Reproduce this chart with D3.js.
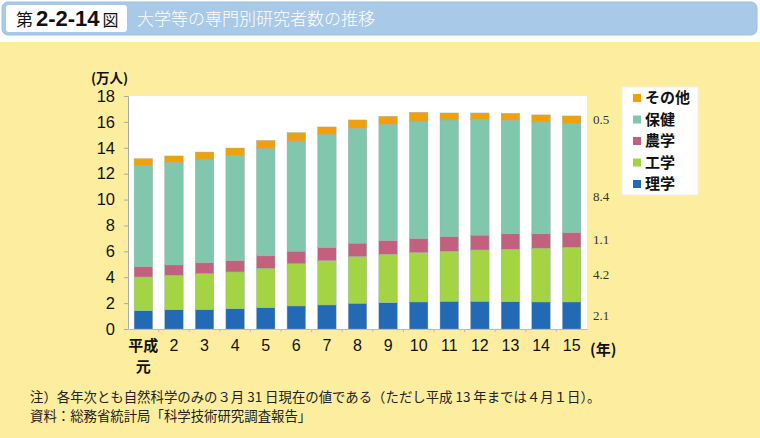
<!DOCTYPE html>
<html><head><meta charset="utf-8">
<script src="https://cdn.jsdelivr.net/npm/d3@7/dist/d3.min.js"></script>
<style>
body{margin:0;background:#fff;}
svg{display:block;}
</style></head>
<body>
<svg id="c" width="760" height="438"></svg>
<script>
// ---- data ----
const years = ["平成元","2","3","4","5","6","7","8","9","10","11","12","13","14","15"];
const rigaku = [1.42,1.49,1.50,1.57,1.65,1.78,1.86,1.99,2.04,2.09,2.14,2.14,2.11,2.09,2.09];
const kogaku = [2.60,2.66,2.78,2.84,3.05,3.27,3.43,3.61,3.74,3.82,3.87,3.97,4.06,4.16,4.23];
const nogaku = [0.80,0.80,0.83,0.88,0.95,0.96,1.01,1.03,1.05,1.08,1.13,1.14,1.18,1.10,1.13];
const hoken  = [7.82,7.92,8.02,8.12,8.31,8.52,8.74,8.87,8.98,9.08,9.01,8.95,8.77,8.65,8.44];
const sonota = [0.52,0.50,0.54,0.57,0.61,0.64,0.57,0.65,0.62,0.67,0.54,0.49,0.54,0.54,0.57];
const seriesNames = ["理学","工学","農学","保健","その他"];
const lastLabels = ["2.1","4.2","1.1","8.4","0.5"];
const yTicks = [0,2,4,6,8,10,12,14,16,18];
const colors = ["#2269B6","#A3D444","#C2607E","#80C7AE","#F0A10A"];
const labelFrac = [0.5,0.5,0.5,0.33,0.5];

const svg = d3.select("#c");
const W = 760, H = 438;

// background
svg.append("rect").attr("x",0).attr("y",0).attr("width",W).attr("height",H).attr("fill","#fff");
svg.append("rect").attr("x",0).attr("y",42).attr("width",W).attr("height",H-42).attr("fill","#FCEE9E");

// header
svg.append("rect").attr("x",2).attr("y",2).attr("width",755).attr("height",33).attr("rx",6)
  .attr("fill","#A9C9E8").attr("stroke","#9BBFE3");
svg.append("rect").attr("x",6).attr("y",5).attr("width",121).attr("height",27).attr("rx",3).attr("fill","#fff");
const ht = svg.append("text").attr("x",16).attr("y",26).attr("font-family","'Noto Sans CJK JP', sans-serif").attr("fill","#111");
ht.append("tspan").attr("font-size",17).text("第");
ht.append("tspan").attr("font-size",22).attr("font-weight","bold").attr("font-family","'Liberation Sans', Arial, sans-serif").attr("dx",3).text("2-2-14");
ht.append("tspan").attr("font-size",16).attr("dx",3).text("図");
svg.append("text").attr("x",137).attr("y",25).attr("font-size",17).attr("fill","#fff")
  .attr("font-family","'Noto Sans CJK JP', sans-serif").attr("font-weight",300).text("大学等の専門別研究者数の推移");

// scales
const plot = {l:128, r:587, t:96, b:329};
const x = d3.scaleBand().domain(years).range([plot.l, plot.r]).paddingInner(0.395).paddingOuter(0.2);
const y = d3.scaleLinear().domain([0,18]).range([plot.b, plot.t]);

svg.append("rect").attr("x",plot.l).attr("y",plot.t).attr("width",plot.r-plot.l).attr("height",plot.b-plot.t)
  .attr("fill","#fff");

// stack
const rows = years.map((yr,i)=>({yr, 理学:rigaku[i], 工学:kogaku[i], 農学:nogaku[i], 保健:hoken[i], その他:sonota[i]}));
const stack = d3.stack().keys(seriesNames)(rows);

svg.append("g").selectAll("g").data(stack).join("g")
  .attr("fill",(d,i)=>colors[i])
  .selectAll("rect").data(d=>d).join("rect")
  .attr("x",d=>x(d.data.yr)).attr("width",x.bandwidth())
  .attr("y",d=>y(d[1])).attr("height",d=>y(d[0])-y(d[1]))
  .attr("stroke","#9aa").attr("stroke-width",0.4);

// axes
const numFont = "'Liberation Sans', Arial, sans-serif";
const ya = svg.append("g").attr("transform",`translate(${plot.l},0)`)
  .call(d3.axisLeft(y).tickValues(yTicks).tickSize(4).tickPadding(9));
ya.select(".domain").attr("stroke","#aaa");
ya.selectAll(".tick line").attr("stroke","#aaa");
ya.selectAll(".tick text").attr("font-size",16.5).attr("font-family",numFont).attr("fill","#111");

const xa = svg.append("g").attr("transform",`translate(0,${plot.b})`)
  .call(d3.axisBottom(x).tickSize(0).tickPadding(11));
xa.select(".domain").attr("stroke","#bbb");
xa.selectAll(".tick text").attr("font-size",16).attr("font-family",numFont).attr("fill","#111")
  .each(function(d){
    if(d==="平成元"){
      d3.select(this).text("平成").attr("font-family","'Noto Sans CJK JP', sans-serif")
        .attr("font-size",15).attr("font-weight","bold");
    }
  });
// second line of the first label
svg.append("text").attr("x",x(years[0])+x.bandwidth()/2).attr("y",372).attr("text-anchor","middle")
  .attr("font-family","'Noto Sans CJK JP', sans-serif").attr("font-size",15).attr("font-weight","bold")
  .attr("fill","#111").text("元");
// band-edge ticks
svg.append("g").selectAll("line").data(years.slice(1)).join("line")
  .attr("x1",d=>x(d)-x.step()*x.paddingInner()/2).attr("x2",d=>x(d)-x.step()*x.paddingInner()/2)
  .attr("y1",plot.b).attr("y2",plot.b+3).attr("stroke","#bbb");

svg.append("text").attr("x",91).attr("y",83).attr("font-size",13.5).attr("font-weight","bold")
  .attr("font-family","'Noto Sans CJK JP', sans-serif").attr("fill","#111").text("(万人)");
svg.append("text").attr("x",590).attr("y",355).attr("font-size",15).attr("font-weight","bold")
  .attr("font-family","'Noto Sans CJK JP', sans-serif").attr("fill","#111").text("(年)");

// last-year value labels
const lastIdx = years.length-1;
svg.append("g").selectAll("text").data(stack).join("text")
  .attr("x",593)
  .attr("y",(s,i)=>y(s[lastIdx][0] + labelFrac[i]*(s[lastIdx][1]-s[lastIdx][0])))
  .attr("dy","0.35em").attr("font-size",13).attr("fill","#333")
  .attr("font-family","'Liberation Serif','Times New Roman', serif")
  .text((s,i)=>lastLabels[i]);

// legend
const lg = svg.append("g");
lg.append("rect").attr("x",622).attr("y",87).attr("width",76).attr("height",108).attr("fill","#fff").attr("stroke","#eee");
const legendOrder = [4,3,2,1,0];
legendOrder.forEach((si,k)=>{
  const cy = 98 + k*21.5;
  lg.append("rect").attr("x",633).attr("y",cy-4).attr("width",8).attr("height",8).attr("fill",colors[si]);
  lg.append("text").attr("x",645).attr("y",cy).attr("dy","0.36em").attr("font-size",15).attr("font-weight","bold")
    .attr("font-family","'Noto Sans CJK JP', sans-serif").attr("fill","#111").text(seriesNames[si]);
});

// notes
svg.append("text").attr("x",30).attr("y",402).attr("font-size",13.4).attr("fill","#222")
  .attr("font-family","'Noto Sans CJK JP', sans-serif")
  .text("注）各年次とも自然科学のみの３月 31 日現在の値である（ただし平成 13 年までは４月１日）。");
svg.append("text").attr("x",30).attr("y",421).attr("font-size",13.4).attr("fill","#222")
  .attr("font-family","'Noto Sans CJK JP', sans-serif")
  .text("資料：総務省統計局「科学技術研究調査報告」");
</script>
</body></html>
